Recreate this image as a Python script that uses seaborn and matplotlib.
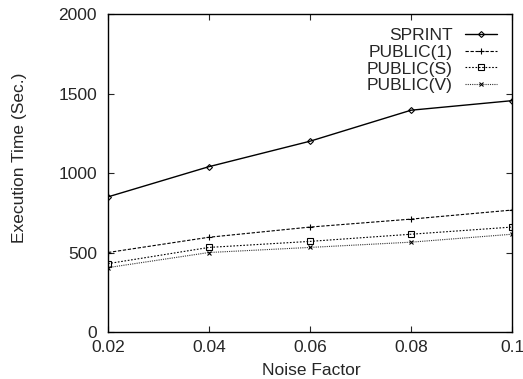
import seaborn as sns
import pandas as pd
import matplotlib.pyplot as plt

noise = [0.02, 0.04, 0.06, 0.08, 0.1]
sprint = [850, 1040, 1200, 1395, 1455]
public_1 = [500, 596, 660, 710, 767]
public_s = [430, 532, 570, 615, 660]
public_v = [405, 500, 532, 565, 615]

series = {"SPRINT": sprint, "PUBLIC(1)": public_1, "PUBLIC(S)": public_s, "PUBLIC(V)": public_v}
rows = []
for name, vals in series.items():
    for x, y in zip(noise, vals):
        rows.append([x, y, name])
df = pd.DataFrame(rows, columns=["noise", "time", "alg"])

sns.set_style("ticks")
plt.rcParams['font.family'] = ['Liberation Sans', 'DejaVu Sans']

fig = plt.figure(figsize=(5.23, 3.79), dpi=100)
ax = fig.add_axes([0.2065, 0.124, 0.7725, 0.839])

styles = {
    "SPRINT": dict(ls="-", marker="D", ms=3, lw=1.0, c="black"),
    "PUBLIC(1)": dict(ls=(0, (3, 1.5)), marker="+", ms=4, lw=0.8, c="black"),
    "PUBLIC(S)": dict(ls=(0, (1.5, 1.5)), marker="s", ms=4, lw=0.8, c="black"),
    "PUBLIC(V)": dict(ls=(0, (1, 1)), marker="x", ms=3.5, lw=0.8, c="#333333"),
}
for name in series:
    st = styles[name]
    sns.lineplot(data=df[df.alg == name], x="noise", y="time", ax=ax, color=st["c"],
                 linestyle=st["ls"], marker=st["marker"], markersize=st["ms"], lw=st["lw"],
                 markerfacecolor="none", markeredgecolor="black", markeredgewidth=0.8,
                 label=name)

ax.set_xlim(0.02, 0.1)
ax.set_ylim(0, 2000)
ax.set_xticks(noise)
ax.set_xticklabels(["0.02", "0.04", "0.06", "0.08", "0.1"])
ax.set_yticks([0, 500, 1000, 1500, 2000])
ax.tick_params(direction="in", top=True, right=True, labelsize=12.5, length=4, width=0.8)
ax.tick_params(axis="y", pad=8)
ax.tick_params(axis="x", pad=6)
for s in ax.spines.values():
    s.set_linewidth(1.0)
    s.set_color("black")
ax.set_xlabel("Noise Factor", fontsize=12.5)
ax.set_ylabel("Execution Time (Sec.)", fontsize=12.5)
ax.xaxis.set_label_coords(0.502, -0.12)
ax.yaxis.set_label_coords(-0.218, 0.547)
ax.yaxis.label.set_va("center")
ax.xaxis.label.set_va("center")

leg = ax.legend(loc="upper right", bbox_to_anchor=(0.963, 0.955), markerfirst=False,
                frameon=False, fontsize=12.5, handlelength=1.85, labelspacing=0.08,
                borderaxespad=0, borderpad=0, handletextpad=0.7)
leg._legend_box.align = "right"

fig.savefig("out.png", dpi=100)
